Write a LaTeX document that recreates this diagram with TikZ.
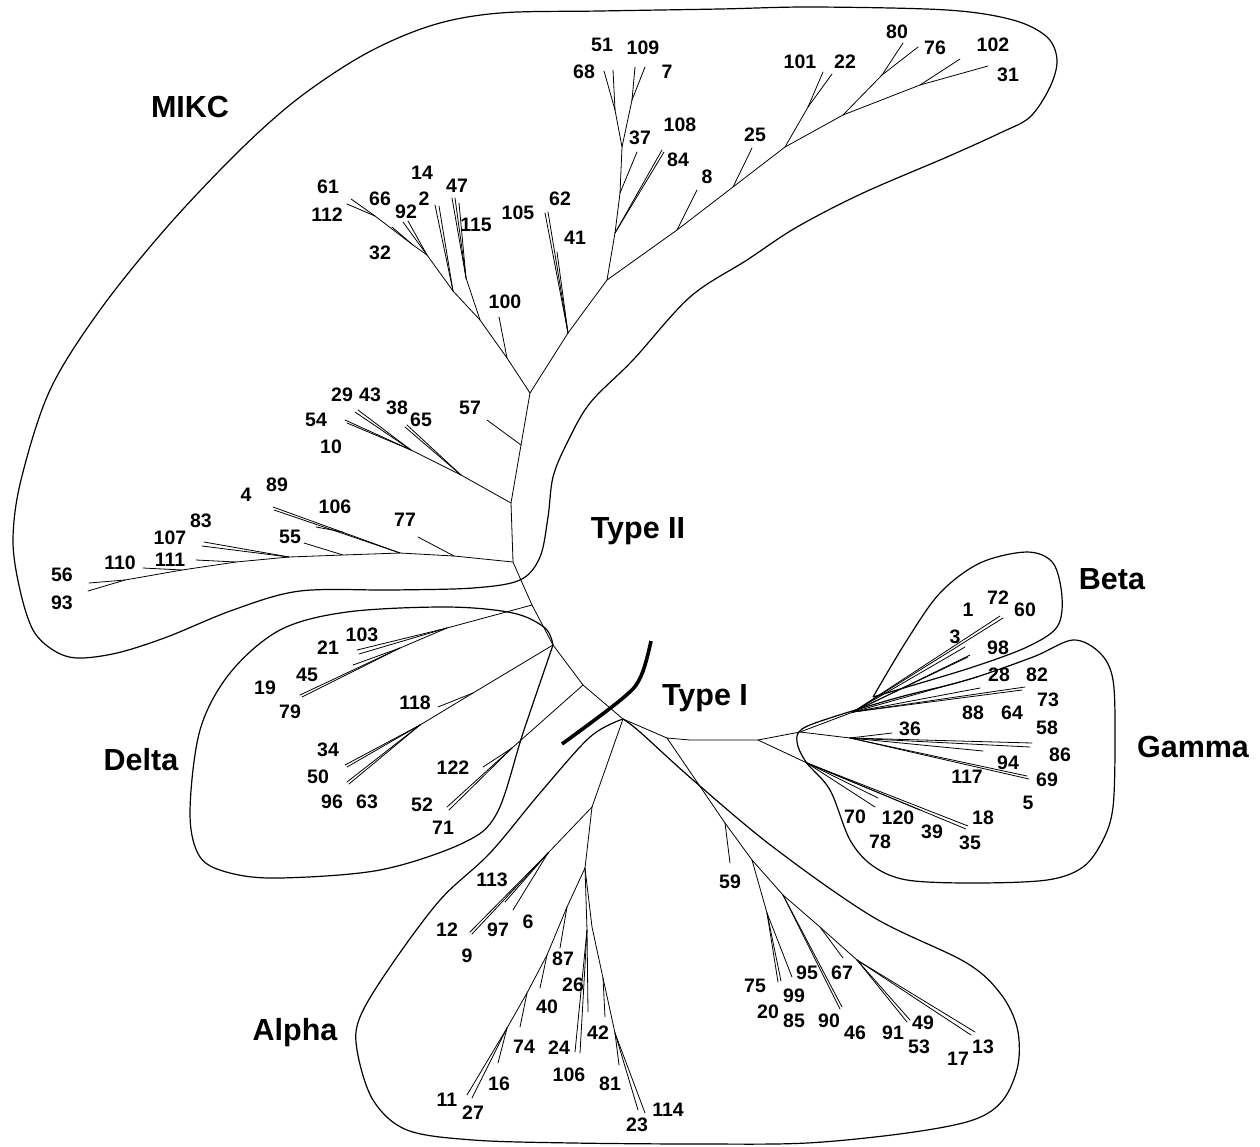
\documentclass[tikz,border=0pt]{standalone}
\usepackage{fontspec}
\setmainfont{Liberation Sans}
\begin{document}
\begin{tikzpicture}[x=1pt,y=-1pt,
  br/.style={line width=0.8pt, line cap=round},
  encl/.style={line width=1.2pt},
  thickarc/.style={line width=3.6pt},
  lab/.style={font=\fontsize{19.5}{21}\selectfont\bfseries, inner sep=0pt},
  grp/.style={font=\fontsize{30.5}{32}\selectfont\bfseries, inner sep=0pt, anchor=base}]
\useasboundingbox (0,0) rectangle (1260,1146);

% ---------------- enclosures ----------------
\draw[encl] plot[smooth cycle, tension=0.55] coordinates {
 (300,97) (367,53) (433,25) (500,13) (600,11) (720,9) (813,7) (947,10) (1013,20)
 (1047,37) (1057,60) (1050,87) (1030,117) (1000,133) (947,157) (863,193) (797,227)
 (747,260) (690,297) (633,360) (590,403) (567,443) (553,477) (548,517) (540,557)
 (520,580) (473,588) (393,590) (300,591) (233,610) (167,637) (117,653) (77,658)
 (53,650) (33,630) (20,590) (13,540) (21,480) (50,390) (100,310) (167,227) (240,150)};
\coordinate (dcusp) at (553,645);
\draw[encl] plot[smooth, tension=0.55] coordinates {
 (553,645) (545,628) (513,613) (447,607) (347,612) (280,630) (230,673) (200,730)
 (190,813) (200,857) (230,873) (280,878) (380,870) (463,843) (497,813) (523,733) (553,645)};
\draw[encl] plot[smooth, tension=0.55] coordinates {
 (873,697) (907,640) (940,593) (980,563) (1027,552) (1053,563) (1062,597) (1057,627)
 (1027,647) (973,667) (907,687) (873,697)};
\draw[encl] plot[smooth cycle, tension=0.55] coordinates {
 (1073,640) (1100,653) (1113,680) (1115,740) (1113,807) (1103,840) (1083,867)
 (1047,880) (973,883) (907,880) (873,866) (850,840) (830,790) (806,762) (797,742)
 (802,729) (833,717) (900,697) (967,680) (1033,657)};
\draw[encl] plot[smooth, tension=0.55] coordinates {
 (623,719) (590,737) (540,793) (490,853) (440,900) (390,967) (360,1017) (357,1050)
 (373,1100) (407,1130) (473,1140) (573,1143) (700,1144) (807,1143) (907,1133)
 (973,1120) (1003,1100) (1018,1065) (1017,1027) (1000,993) (965,962) (873,917)
 (773,847) (693,780) (640,732) (623,719)};
\draw[thickarc] plot[smooth, tension=0.6] coordinates {(651,641) (641,676) (623,698) (562,744)};

% ---------------- backbone ----------------
\coordinate (b1) at (530,393);
\coordinate (b2) at (521,445);
\coordinate (b3) at (511,503);
\coordinate (b4) at (513,562);
\coordinate (bx) at (520,578);
\coordinate (b5) at (532,605);
\coordinate (b6) at (553,645);
\coordinate (b7) at (583,685);
\coordinate (tI) at (623,719);
\draw[br] (b1) -- (b2) -- (b3) -- (b4) -- (bx) -- (b5) -- (b6) -- (b7) -- (tI);

% ---------------- MIKC left ----------------
\coordinate (m1) at (507,358);
\coordinate (m2) at (480,320);
\coordinate (m3) at (466,278);
\coordinate (m5) at (453,291);
\coordinate (m6) at (427,255);
\coordinate (m7) at (413,245);
\coordinate (m8) at (375,216);
\draw[br] (b1) -- (m1) -- (m2) -- (m5) -- (m6) -- (m7) -- (m8);
\draw[br] (m1) -- (499,317) coordinate (t100);
\draw[br] (m2) -- (m3);
\draw[br] (m3) -- (452,198) coordinate (t47a);
\draw[br] (m3) -- (455,198) coordinate (t47b);
\draw[br] (m3) -- (459,203) coordinate (t115);
\draw[br] (m5) -- (435,205) coordinate (t14);
\draw[br] (m5) -- (439,206) coordinate (t2);
\draw[br] (m6) -- (403,222) coordinate (t66);
\draw[br] (m6) -- (408,221) coordinate (t92);
\draw[br] (m7) -- (392,227) coordinate (t32);
\draw[br] (m8) -- (351,199) coordinate (t61);
\draw[br] (m8) -- (347,204) coordinate (t112);

% ---------------- MIKC right ----------------
\coordinate (r1) at (568,333);
\coordinate (r2) at (607,280);
\coordinate (r3) at (615,233);
\coordinate (r4) at (620,193);
\coordinate (r5) at (622,147);
\coordinate (r6) at (615,110);
\coordinate (r7) at (632,100);
\draw[br] (b1) -- (r1) -- (r2) -- (r3) -- (r4) -- (r5) -- (r6);
\draw[br] (r5) -- (r7);
\draw[br] (r1) -- (545,213) coordinate (t105);
\draw[br] (r1) -- (548,212) coordinate (t62);
\draw[br] (r1) -- (557,252) coordinate (t41);
\draw[br] (r3) -- (662,150) coordinate (t108);
\draw[br] (r3) -- (664,152) coordinate (t84);
\draw[br] (r4) -- (637,152) coordinate (t37);
\draw[br] (r6) -- (604,71) coordinate (t68);
\draw[br] (r6) -- (613,70) coordinate (t51);
\draw[br] (r7) -- (635,67) coordinate (t109);
\draw[br] (r7) -- (645,67) coordinate (t7);
\coordinate (s1) at (677,230);
\coordinate (s2) at (733,187);
\coordinate (s3) at (785,147);
\coordinate (s4) at (808,107);
\coordinate (s5) at (843,115);
\coordinate (s6) at (882,75);
\coordinate (s7) at (920,85);
\draw[br] (r2) -- (s1) -- (s2) -- (s3) -- (s5) -- (s7);
\draw[br] (s1) -- (697,190) coordinate (t8);
\draw[br] (s2) -- (752,148) coordinate (t25);
\draw[br] (s3) -- (s4);
\draw[br] (s4) -- (823,72) coordinate (t101);
\draw[br] (s4) -- (832,74) coordinate (t22);
\draw[br] (s5) -- (s6);
\draw[br] (s6) -- (903,43) coordinate (t80);
\draw[br] (s6) -- (918,47) coordinate (t76);
\draw[br] (s7) -- (960,59) coordinate (t102);
\draw[br] (s7) -- (988,66) coordinate (t31);

% ---------------- MIKC middle ----------------
\coordinate (q1) at (461,475);
\coordinate (q2) at (411,450);
\draw[br] (b3) -- (q1) -- (q2);
\draw[br] (q2) -- (355,412) coordinate (t29);
\draw[br] (q2) -- (358,410) coordinate (t43);
\draw[br] (q2) -- (345,420) coordinate (t54);
\draw[br] (q2) -- (347,423) coordinate (t10);
\draw[br] (q1) -- (405,427) coordinate (t65);
\draw[br] (q1) -- (407,425) coordinate (t38);
\draw[br] (b2) -- (487,420) coordinate (t57);

% ---------------- MIKC lower ----------------
\coordinate (p1) at (454,556);
\coordinate (p2) at (400,553);
\coordinate (p3) at (343,555);
\coordinate (p4) at (289,557);
\coordinate (p5) at (236,562);
\coordinate (p6) at (182,570);
\coordinate (p7) at (125,580);
\coordinate (p8) at (343,532);
\draw[br] (b4) -- (p1) -- (p2) -- (p3) -- (p4) -- (p5) -- (p6) -- (p7);
\draw[br] (p7) -- (89,583) coordinate (t56);
\draw[br] (p7) -- (88,591) coordinate (t93);
\draw[br] (p1) -- (418,537) coordinate (t77);
\draw[br] (p2) -- (273,507) coordinate (t89);
\draw[br] (p2) -- (274,510) coordinate (t4);
\draw[br] (p8) -- (316,527) coordinate (t106a);
\draw[br] (p3) -- (304,543) coordinate (t55);
\draw[br] (p4) -- (204,542) coordinate (t83);
\draw[br] (p4) -- (202,546) coordinate (t107);
\draw[br] (p5) -- (196,560) coordinate (t111);
\draw[br] (p6) -- (143,568) coordinate (t110);

% ---------------- Delta ----------------
\coordinate (d1) at (447,628);
\coordinate (d2) at (400,648);
\coordinate (d3) at (473,693);
\coordinate (d4) at (420,725);
\coordinate (d5) at (512,748);
\draw[br] (b5) -- (d1);
\draw[br] (d1) -- (357,650) coordinate (t103);
\draw[br] (d1) -- (359,654) coordinate (t21);
\draw[br] (d1) -- (d2) -- (353,665) coordinate (t21b);
\draw[br] (d2) -- (300,695) coordinate (t45);
\draw[br] (d2) -- (302,697) coordinate (t79);
\draw[br] (b6) -- (d3) -- (d4);
\draw[br] (d3) -- (438,707) coordinate (t118);
\draw[br] (d4) -- (345,765) coordinate (t34);
\draw[br] (d4) -- (347,767) coordinate (t34b);
\draw[br] (d4) -- (347,782) coordinate (t50);
\draw[br] (d4) -- (349,784) coordinate (t96);
\draw[br] (b7) -- (d5);
\draw[br] (d5) -- (483,767) coordinate (t122);
\draw[br] (d5) -- (447,807) coordinate (t52);
\draw[br] (d5) -- (449,810) coordinate (t71);

% ---------------- Type I: Gamma / Beta ----------------
\coordinate (g0) at (667,738);
\coordinate (gx) at (690,740);
\coordinate (g1) at (758,740);
\coordinate (g2) at (800,732);
\coordinate (g3) at (853,712);
\coordinate (g4) at (850,738);
\coordinate (g5) at (807,763);
\draw[br] (tI) -- (g0) -- (gx) -- (g1) -- (g2) -- (g3);
\draw[br] (g2) -- (g4);
\draw[br] (g3) -- (1000,616) coordinate (t72);
\draw[br] (g3) -- (1003,618) coordinate (t60);
\draw[br] (g3) -- (965,647) coordinate (t3);
\draw[br] (g3) -- (970,655) coordinate (t98);
\draw[br] (g3) -- (968,657) coordinate (t98b);
\draw[br] (g3) -- (977,677) coordinate (t28);
\draw[br] (g3) -- (1025,687) coordinate (t82);
\draw[br] (g3) -- (1022,690) coordinate (t73);
\draw[br] (g3) -- (980,688) coordinate (t88);
\draw[br] (g4) -- (892,733) coordinate (t36);
\draw[br] (g4) -- (1032,743) coordinate (t58);
\draw[br] (g4) -- (1030,747) coordinate (t86);
\draw[br] (g4) -- (983,751) coordinate (t117);
\draw[br] (g4) -- (1027,776) coordinate (t94);
\draw[br] (g4) -- (1029,779) coordinate (t69);
\draw[br] (g1) -- (g5);
\draw[br] (g5) -- (875,807) coordinate (t70);
\draw[br] (g5) -- (878,798) coordinate (t120);
\draw[br] (g5) -- (920,810) coordinate (t39);
\draw[br] (g5) -- (968,826) coordinate (t18);
\draw[br] (g5) -- (966,829) coordinate (t35);

% ---------------- Alpha ----------------
\coordinate (a1) at (592,807);
\coordinate (a2) at (585,868);
\coordinate (a3) at (548,853);
\draw[br] (tI) -- (a1) -- (a2);
\draw[br] (a1) -- (a3);
\draw[br] (a3) -- (470,932) coordinate (t12);
\draw[br] (a3) -- (472,934) coordinate (t9);
\draw[br] (a3) -- (505,902) coordinate (t97);
\draw[br] (a3) -- (513,910) coordinate (t6);
\coordinate (al1) at (567,907);
\coordinate (al2) at (547,955);
\coordinate (al3) at (527,993);
\coordinate (al4) at (507,1028);
\draw[br] (a2) -- (al1) -- (al2) -- (al3) -- (al4);
\draw[br] (al4) -- (467,1095) coordinate (t11);
\draw[br] (al4) -- (472,1098) coordinate (t27);
\draw[br] (al1) -- (560,948) coordinate (t87);
\draw[br] (al2) -- (540,988) coordinate (t40);
\draw[br] (al3) -- (520,1027) coordinate (t74);
\draw[br] (al4) -- (498,1063) coordinate (t16);
\coordinate (ar0) at (587,930);
\coordinate (ar1) at (592,927);
\coordinate (ar2) at (603,978);
\coordinate (ar3) at (615,1033);
\draw[br] (a2) -- (ar1) -- (ar2) -- (ar3);
\draw[br] (a2) -- (ar0);
\draw[br] (ar0) -- (588,1012) coordinate (t26);
\draw[br] (ar0) -- (575,1052) coordinate (t24);
\draw[br] (ar0) -- (580,1053) coordinate (t106b);
\draw[br] (ar2) -- (605,1017) coordinate (t42);
\draw[br] (ar3) -- (619,1065) coordinate (t81);
\draw[br] (ar3) -- (638,1110) coordinate (t23);
\draw[br] (ar3) -- (645,1113) coordinate (t114);
% alpha right group
\coordinate (h1) at (725,823);
\coordinate (h2) at (752,860);
\coordinate (h3) at (767,913);
\coordinate (h4) at (783,895);
\coordinate (h5) at (820,927);
\coordinate (h6) at (857,960);
\draw[br] (g0) -- (h1) -- (h2) -- (h4) -- (h5) -- (h6);
\draw[br] (h1) -- (730,863) coordinate (t59);
\draw[br] (h2) -- (h3);
\draw[br] (h3) -- (778,982) coordinate (t75);
\draw[br] (h3) -- (781,981) coordinate (t99);
\draw[br] (h3) -- (792,977) coordinate (t95);
\draw[br] (h4) -- (842,1007) coordinate (t90);
\draw[br] (h4) -- (840,1009) coordinate (t46);
\draw[br] (h5) -- (843,958) coordinate (t67);
\draw[br] (h6) -- (910,1020) coordinate (t49);
\draw[br] (h6) -- (907,1022) coordinate (t91);
\draw[br] (h6) -- (975,1032) coordinate (t13);
\draw[br] (h6) -- (971,1035) coordinate (t17);

% ---------------- number labels ----------------
\foreach \nm/\xx/\yy in {
 61/328/187, 112/327/215, 66/380/199, 92/406/212, 14/422/173, 2/424/199, 47/457/186,
 115/476/225, 32/380/253, 100/505/302, 105/518/213, 62/560/199, 41/575/238,
 51/602/45, 109/643/48, 68/584/72, 7/667/72, 37/640/138, 108/680/125, 84/678/160,
 8/707/177, 25/755/135, 101/800/62, 22/845/62, 80/897/32, 76/935/48, 102/993/45, 31/1008/75,
 29/342/395, 43/370/395, 38/397/408, 65/421/420, 54/316/420, 10/331/447, 57/470/408,
 4/246/495, 89/277/485, 83/201/521, 107/170/538, 55/290/537, 77/405/520,
 110/120/563, 111/170/560, 56/62/575, 93/62/603,
 103/362/635, 21/328/648, 45/307/675, 19/265/688, 79/290/712, 118/415/703,
 34/328/750, 50/318/777, 96/332/802, 63/367/802, 122/453/768, 52/422/805, 71/443/828,
 1/968/610, 72/998/598, 60/1025/610, 3/955/637, 98/998/648, 28/999/675, 82/1037/675,
 73/1048/700, 88/973/713, 64/1012/713, 36/910/729, 58/1047/728, 86/1060/755,
 94/1008/763, 117/967/777, 69/1047/780, 5/1028/803, 70/855/817, 120/898/818,
 78/880/842, 39/932/832, 18/983/818, 35/970/843,
 113/492/880, 12/447/930, 9/467/956, 97/498/930, 6/528/922, 87/563/959, 40/547/1007,
 74/524/1047, 16/499/1084, 11/447/1100, 27/473/1113, 26/573/985, 42/598/1033,
 24/559/1048, 81/610/1084, 114/668/1110, 23/637/1125,
 59/730/882, 95/807/973, 67/842/973, 75/755/986, 99/794/996, 20/768/1012, 85/794/1021,
 90/829/1021, 46/855/1033, 91/893/1033, 49/923/1023, 53/919/1047, 17/958/1059, 13/983/1047}
 {\node[lab] (L\nm) at (\xx,\yy) {\nm};}
\node[lab] (L106a) at (335,507) {106};
\node[lab] (L106b) at (569,1075) {106};

% ---------------- group labels ----------------
\node[grp] (MIKC) at (190,117) {MIKC};
\node[grp] (TypeII) at (638,538) {Type II};
\node[grp] (TypeI) at (705,705) {Type I};
\node[grp] (Beta) at (1112,589) {Beta};
\node[grp] (Gamma) at (1193,757) {Gamma};
\node[grp] (Delta) at (141,770) {Delta};
\node[grp] (Alpha) at (295,1040) {Alpha};
\end{tikzpicture}
\end{document}
